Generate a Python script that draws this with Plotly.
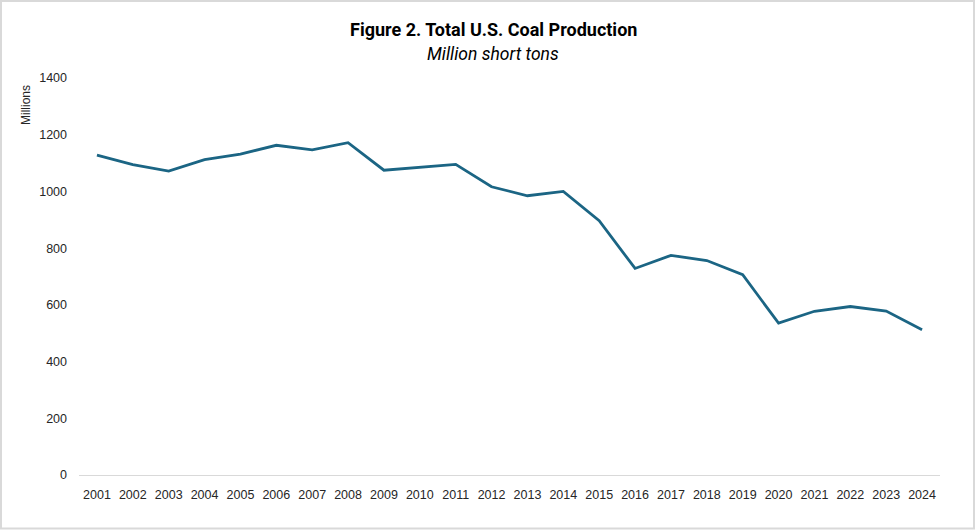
import plotly.graph_objects as go

years = [str(y) for y in range(2001, 2025)]
production = [1127.7, 1094.3, 1071.8, 1112.1, 1131.5, 1162.7, 1146.6, 1171.8,
              1074.9, 1084.4, 1095.6, 1016.5, 984.8, 1000.0, 896.9, 728.4,
              774.6, 756.2, 706.3, 535.4, 577.4, 594.2, 577.9, 512.0]
y_ticks = [0, 200, 400, 600, 800, 1000, 1200, 1400]

W, H = 975, 530
ml, mr, mt, mb = 79, 35, 78, 55
pw, ph = W - ml - mr, H - mt - mb


def px_x(p):
    return (p - ml) / pw


def px_y(p):
    return (H - mb - p) / ph


fig = go.Figure()
fig.add_trace(go.Scatter(
    x=years, y=production, mode="lines",
    line=dict(color="#1b6584", width=2.8),
    hoverinfo="x+y",
))

fig.update_layout(
    width=W, height=H,
    margin=dict(l=ml, r=mr, t=mt, b=mb),
    paper_bgcolor="white", plot_bgcolor="white",
    showlegend=False,
    font=dict(family="Liberation Sans, Arial, sans-serif", size=12, color="#262626"),
    xaxis=dict(
        type="category", range=[-0.5, len(years) - 0.5],
        showgrid=False, showline=True, linecolor="#d9d9d9",
        linewidth=1, ticks="", tickfont=dict(size=12.5), ticklabelstandoff=8,
    ),
    yaxis=dict(
        range=[0, 1400], tickvals=y_ticks, showgrid=False, showline=False,
        zeroline=False, ticks="", tickfont=dict(size=12.5), ticklabelstandoff=11,
    ),
    shapes=[dict(
        type="rect", xref="paper", yref="paper",
        x0=px_x(1), x1=px_x(974), y0=px_y(528.5), y1=px_y(1),
        line=dict(color="#d9d9d9", width=2), layer="below",
    )],
    annotations=[
        dict(text="<b>Figure 2. Total U.S. Coal Production</b>", xref="paper", yref="paper",
             x=px_x(493), y=px_y(30), showarrow=False, xanchor="center", yanchor="middle",
             font=dict(family="Liberation Sans Narrow, Arial Narrow, Roboto, sans-serif",
                       size=18, color="#000000")),
        dict(text="<i>Million short tons</i>", xref="paper", yref="paper",
             x=px_x(493), y=px_y(54), showarrow=False, xanchor="center", yanchor="middle",
             font=dict(family="Liberation Sans Narrow, Arial Narrow, Roboto, sans-serif",
                       size=17.5, color="#000000")),
        dict(text="Millions", xref="paper", yref="paper", textangle=-90,
             x=px_x(26), y=px_y(105), showarrow=False, xanchor="center", yanchor="middle",
             font=dict(size=12, color="#262626")),
    ],
)

fig.write_html("out.html", config={"displayModeBar": False},
               post_script="document.body.style.margin='0';")
